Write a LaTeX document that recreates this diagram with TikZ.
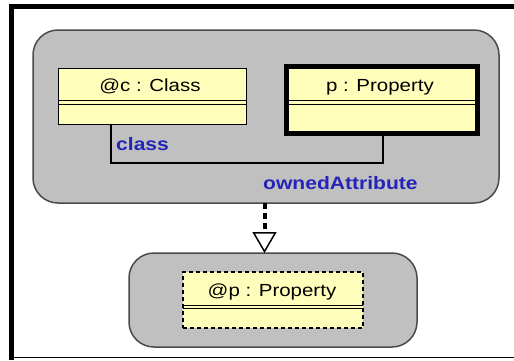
\documentclass[tikz,border=0pt]{standalone}
\usepackage{fontspec}
\usetikzlibrary{arrows.meta}
\newfontfamily\umlfont[FakeStretch=1.17]{Liberation Sans}
\definecolor{pkggrey}{HTML}{C0C0C0}
\definecolor{pkgedge}{HTML}{4A4A4A}
\definecolor{objyellow}{HTML}{FFFFBB}
\definecolor{rolblue}{RGB}{36,36,184}
\tikzset{
  container/.style={draw=pkgedge, line width=1.5pt, fill=pkggrey,
    rounded corners=25pt, inner sep=0pt, outer sep=0pt},
  objbox/.style={draw=black, line width=1pt, fill=objyellow,
    inner sep=0pt, outer sep=0pt},
  focusbox/.style={objbox, line width=5pt, outer sep=2.5pt},
  matchbox/.style={objbox, line width=1.3pt, dash pattern=on 4pt off 3pt},
  objtext/.style={anchor=base, inner sep=0pt,
    font=\umlfont\fontsize{17.5}{20}\selectfont},
  roletext/.style={anchor=base west, inner sep=0pt, text=rolblue,
    font=\umlfont\bfseries\fontsize{18}{20}\selectfont},
  sepline/.style={line width=1pt, black},
  assoc/.style={draw=black, line width=1.2pt},
  refines/.style={draw=black, line width=4pt, dash pattern=on 6pt off 4pt,
    -{Triangle[open, width=24pt, length=21pt, line width=1.5pt]}}
}
\begin{document}
\begin{tikzpicture}[x=1pt, y=-1pt]
  \useasboundingbox[fill=white] (0,0) rectangle (514,360);
  % outer frame
  \draw[line width=5pt] (11.5,360) -- (11.5,6.5) -- (514,6.5);
  \draw[line width=1.5pt] (9,357.5) -- (514,357.5);

  % upper pattern
  \node[container, minimum width=466pt, minimum height=173pt] (lhs) at (266,116.5) {};
  \node[objbox, minimum width=188pt, minimum height=56pt] (c) at (152,96) {};
  \node[objtext] (ctext) at (150,91.7) {@c : Class};
  \draw[sepline] (c.west |- 0,100.5) -- (c.east |- 0,100.5);
  \draw[sepline] (c.west |- 0,104.5) -- (c.east |- 0,104.5);

  \node[focusbox, minimum width=191pt, minimum height=67pt] (p) at (382,100) {};
  \node[objtext] (ptext) at (380,91.7) {p : Property};
  \draw[sepline] (289,100.5) -- (475,100.5);
  \draw[sepline] (289,104.5) -- (475,104.5);

  % association between the two objects
  \coordinate (cend) at (111,0);
  \coordinate (pend) at (383,0);
  \draw[assoc] (c.south -| cend) -- ++(0,39) -| (p.south -| pend);
  \node[roletext] (crole) at (116,150) {class};
  \node[roletext] (prole) at (263,189) {ownedAttribute};

  % lower pattern
  \node[container, minimum width=288pt, minimum height=94pt] (rhs) at (273,300) {};
  \node[matchbox, minimum width=180pt, minimum height=56pt] (q) at (273,300) {};
  \node[objtext] (qtext) at (272,296.7) {@p : Property};
  \draw[sepline] (q.west |- 0,305) -- (q.east |- 0,305);
  \draw[sepline] (q.west |- 0,308.5) -- (q.east |- 0,308.5);

  % refinement arrow
  \coordinate (ref) at (264.5,0);
  \draw[refines] (lhs.south -| ref) -- (rhs.north -| ref);
\end{tikzpicture}
\end{document}
